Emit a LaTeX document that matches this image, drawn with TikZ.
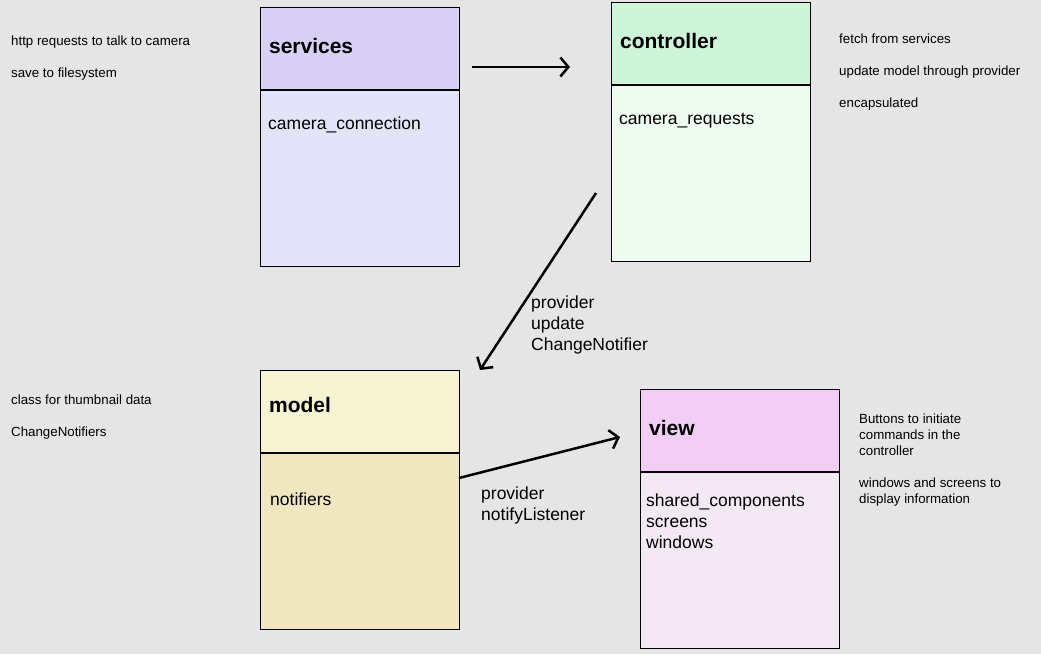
\documentclass[tikz,border=0pt]{standalone}
\usepackage{fontspec}
\setmainfont{Liberation Sans}
\usetikzlibrary{arrows.meta}
\definecolor{bg}{RGB}{229,229,229}
\definecolor{servhead}{RGB}{217,209,245}
\definecolor{servbody}{RGB}{227,227,250}
\definecolor{ctrlhead}{RGB}{207,245,216}
\definecolor{ctrlbody}{RGB}{239,253,240}
\definecolor{modlhead}{RGB}{245,243,210}
\definecolor{modlbody}{RGB}{240,230,192}
\definecolor{viewhead}{RGB}{242,205,245}
\definecolor{viewbody}{RGB}{244,232,245}

\begin{document}
\begin{tikzpicture}[x=1pt,y=-1pt,
  box/.style={draw,line width=1.2pt,anchor=north west,minimum width=199pt,inner sep=0pt},
  head/.style={box,minimum height=82pt,text width=181pt,align=left,
    text height=15pt,text depth=6pt,
    font=\fontsize{21}{25}\selectfont\bfseries},
  body/.style={box,minimum height=176pt},
  item/.style={anchor=north west,align=left,inner sep=0pt,
    font=\fontsize{17.5}{21}\selectfont,execute at begin node=\strut},
  note/.style={anchor=north west,align=left,inner sep=0pt,
    font=\fontsize{13.3}{16}\selectfont,execute at begin node=\strut},
  link/.style={line width=2.5pt,-{Straight Barb[length=8pt,width=19pt]}}]
\fill[bg] (0,0) rectangle (1041,654);
\useasboundingbox (0,0) rectangle (1041,654);

% services
\node[head,fill=servhead] (services) at (259.5,7) {services};
\node[body,fill=servbody] (servicesbody) at (services.south west) {};
\node[item] (conn) at (268,114.5) {camera\_connection};
% controller
\node[head,fill=ctrlhead] (controller) at (610.5,2) {controller};
\node[body,fill=ctrlbody] (controllerbody) at (controller.south west) {};
\node[item] (req) at (619,109.5) {camera\_requests};
% model
\node[head,fill=modlhead,text depth=13pt] (model) at (259.5,370) {model};
\node[body,fill=modlbody] (modelbody) at (model.south west) {};
\node[item] (notif) at (270,490.5) {notifiers};
% view
\node[head,fill=viewhead] (view) at (639.5,389) {view};
\node[body,fill=viewbody] (viewbody) at (view.south west) {};
\node[item] (parts) at (646,493.5) {shared\_components\\screens\\windows};

% arrows
\coordinate (s1) at (472,67);
\coordinate (c1) at (570,67);
\coordinate (c2) at (596,193);
\coordinate (m1) at (480,370);
\coordinate (m2) at (459,478);
\coordinate (v1) at (620,437);
\draw[link] (s1) -- (c1);
\draw[link] (c2) -- (m1);
\draw[link] (m2) -- (v1);
\node[item] (updlabel) at (531,295.5) {provider\\update\\ChangeNotifier};
\node[item] (notlabel) at (481,486.5) {provider\\notifyListener};

% notes
\node[note] (http) at (11,34.5) {http requests to talk to camera};
\node[note] (save) at (11,66.5) {save to filesystem};
\node[note] (thumb) at (11,393.5) {class for thumbnail data};
\node[note] (cn) at (11,425.5) {ChangeNotifiers};
\node[note] (fetch) at (839,32.5) {fetch from services};
\node[note] (updm) at (839,64.5) {update model through provider};
\node[note] (enc) at (839,96.5) {encapsulated};
\node[note] (btn) at (859,413.5) {Buttons to initiate\\commands in the\\controller};
\node[note] (win) at (859,477.5) {windows and screens to\\display information};
\end{tikzpicture}
\end{document}
